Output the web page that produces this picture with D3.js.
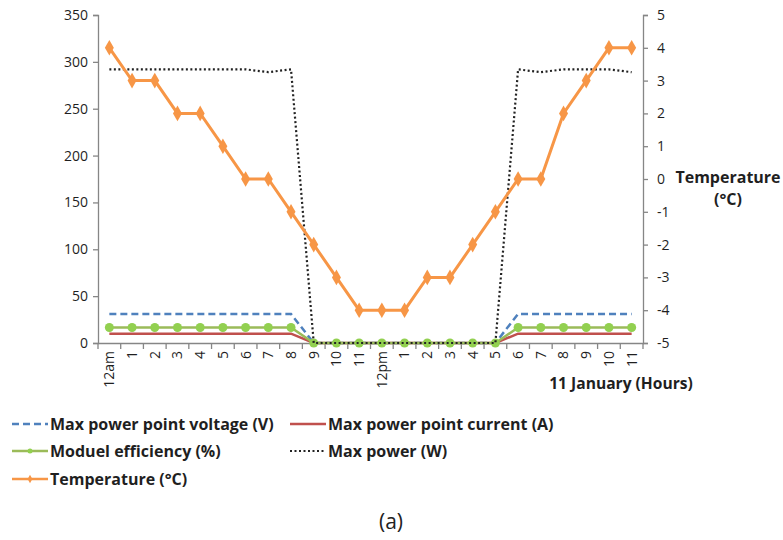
<!DOCTYPE html>
<html><head><meta charset="utf-8">
<script src="https://cdn.jsdelivr.net/npm/d3@7"></script>
<style>
body{margin:0;background:#fff;}
svg text{font-family:"Open Sans","DejaVu Sans",sans-serif;}
</style></head>
<body><svg id="c" width="783" height="540"></svg>
<script>
const hours = ["12am","1","2","3","4","5","6","7","8","9","10","11","12pm","1","2","3","4","5","6","7","8","9","10","11"];
const voltage = [31,31,31,31,31,31,31,31,31,0,0,0,0,0,0,0,0,0,31,31,31,31,31,31];
const current = [10,10,10,10,10,10,10,10,10,0,0,0,0,0,0,0,0,0,10,10,10,10,10,10];
const efficiency = [16.5,16.5,16.5,16.5,16.5,16.5,16.5,16.5,16.5,0,0,0,0,0,0,0,0,0,16.5,16.5,16.5,16.5,16.5,16.5];
const maxPower = [292,292,292,292,292,292,292,289,292,0,0,0,0,0,0,0,0,0,292,289,292,292,292,289];
const temperature = [4,3,3,2,2,1,0,0,-1,-2,-3,-4,-4,-4,-3,-3,-2,-1,0,0,2,3,4,4];
const leftTicks = [0,50,100,150,200,250,300,350];
const rightTicks = [-5,-4,-3,-2,-1,0,1,2,3,4,5];

const svg = d3.select("#c");
const L = 98, R = 643, T = 15, B = 343;
const idx = hours.map((d,i)=>i);
const x = d3.scaleBand().domain(idx).range([L,R]);
const xc = i => x(i) + x.bandwidth()/2;
const yL = d3.scaleLinear().domain([0,350]).range([B,T]);
const yR = d3.scaleLinear().domain([-5,5]).range([B,T]);
const axisColor = "#868686", textColor = "#1f1f1f";

const gL = svg.append("g").attr("transform",`translate(${L},0)`)
  .call(d3.axisLeft(yL).tickValues(leftTicks).tickSize(5).tickPadding(5));
const gR = svg.append("g").attr("transform",`translate(${R},0)`)
  .call(d3.axisRight(yR).tickValues(rightTicks).tickFormat(d=>String(d)).tickSize(5).tickPadding(9));
const gX = svg.append("g").attr("transform",`translate(0,${B})`)
  .call(d3.axisBottom(x).tickFormat(i=>hours[i]).tickSize(0).tickPadding(8));
[gL,gR,gX].forEach(g=>{
  g.select(".domain").attr("stroke",axisColor).attr("stroke-width",1.3);
  g.selectAll(".tick line").attr("stroke",axisColor).attr("stroke-width",1.3);
  g.selectAll("text").attr("fill",textColor).style("font-size","14px");
});
gX.selectAll(".tick text").attr("transform","rotate(-90)").attr("text-anchor","end")
  .attr("x",-8).attr("y",0).attr("dy","0.35em");
gX.selectAll(".bt").data(d3.range(25)).enter().append("line")
  .attr("x1",i=>L+i*x.step()).attr("x2",i=>L+i*x.step()).attr("y1",0).attr("y2",6)
  .attr("stroke",axisColor).attr("stroke-width",1.3);

function line(vals, scale){ return d3.line().x((d,i)=>xc(i)).y(d=>scale(d))(vals); }
svg.append("path").attr("d",line(current,yL)).attr("fill","none").attr("stroke","#c0504d").attr("stroke-width",2.5);
svg.append("path").attr("d",line(voltage,yL)).attr("fill","none").attr("stroke","#4f81bd").attr("stroke-width",2.5).attr("stroke-dasharray","7,4");
svg.append("path").attr("d",line(efficiency,yL)).attr("fill","none").attr("stroke","#9bbb59").attr("stroke-width",2.5);
svg.selectAll(".em").data(efficiency).enter().append("circle")
  .attr("cx",(d,i)=>xc(i)).attr("cy",d=>yL(d)).attr("r",4.5).attr("fill","#92d050");
svg.append("path").attr("d",line(maxPower,yL)).attr("fill","none").attr("stroke","#222").attr("stroke-width",2.2).attr("stroke-dasharray","2,2.5");
svg.append("path").attr("d",line(temperature,yR)).attr("fill","none").attr("stroke","#f79646").attr("stroke-width",3);
const diamond = d3.symbol().type(d3.symbolDiamond).size(70);
svg.selectAll(".tm").data(temperature).enter().append("path")
  .attr("d",diamond).attr("transform",(d,i)=>`translate(${xc(i)},${yR(d)})`).attr("fill","#f79646");

svg.append("text").attr("x",728).attr("y",183).attr("text-anchor","middle").attr("font-weight","bold").style("font-size","16px").attr("fill",textColor).text("Temperature");
svg.append("text").attr("x",728).attr("y",205).attr("text-anchor","middle").attr("font-weight","bold").style("font-size","16px").attr("fill",textColor).text("(°C)");
svg.append("text").attr("x",621).attr("y",389).attr("text-anchor","middle").attr("font-weight","bold").style("font-size","15.6px").attr("fill",textColor).text("11 January (Hours)");

const leg = [
  {name:"Max power point voltage (V)", color:"#4f81bd", dash:"7,4", x:12, y:424, marker:null},
  {name:"Max power point current (A)", color:"#c0504d", dash:null, x:290, y:424, marker:null},
  {name:"Moduel efficiency (%)", color:"#9bbb59", dash:null, x:12, y:451, marker:"c"},
  {name:"Max power (W)", color:"#222", dash:"2,2.5", x:290, y:451, marker:null},
  {name:"Temperature (°C)", color:"#f79646", dash:null, x:12, y:479, marker:"d"}
];
const lg = svg.selectAll(".lg").data(leg).enter().append("g");
lg.append("line").attr("x1",d=>d.x).attr("x2",d=>d.x+36).attr("y1",d=>d.y).attr("y2",d=>d.y)
  .attr("stroke",d=>d.color).attr("stroke-width",d=>d.dash==="2,2.5"?2:2.5).attr("stroke-dasharray",d=>d.dash);
lg.filter(d=>d.marker==="c").append("circle").attr("cx",d=>d.x+18).attr("cy",d=>d.y).attr("r",2.5).attr("fill","#92d050");
lg.filter(d=>d.marker==="d").append("path").attr("d",d3.symbol().type(d3.symbolDiamond).size(20)).attr("transform",d=>`translate(${d.x+18},${d.y})`).attr("fill","#f79646");
lg.append("text").attr("x",d=>d.x+38).attr("y",d=>d.y).attr("dy","0.35em").attr("font-weight","bold").style("font-size","16px").attr("fill",textColor).text(d=>d.name);

svg.append("text").attr("x",391).attr("y",522).attr("text-anchor","middle").attr("dy","0.35em").style("font-size","21px").attr("fill","#222").text("(a)");
</script></body></html>
